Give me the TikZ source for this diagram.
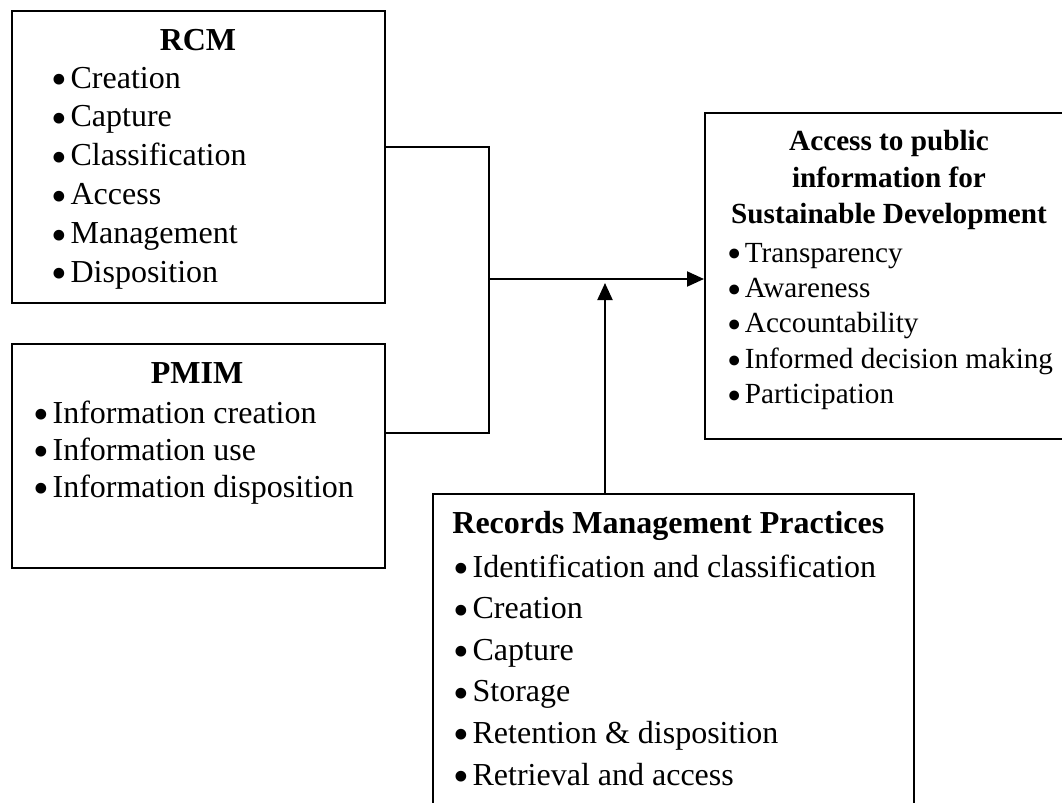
\documentclass[tikz,border=0pt]{standalone}
\usepackage{fontspec}
\setmainfont{Liberation Serif}
\usetikzlibrary{arrows.meta}
\newcommand{\bul}{\makebox[0.6em][l]{\smash{\raisebox{-0.2em}{\scalebox{1.4}{•}}}}}
\tikzset{
  box/.style={draw, line width=1pt, rectangle, inner sep=0pt, anchor=north west},
  ttl/.style={font=\fontsize{16}{19}\selectfont\bfseries, anchor=base, inner sep=0pt},
  itm/.style={font=\fontsize{16}{19}\selectfont, anchor=base west, inner sep=0pt},
  attl/.style={font=\fontsize{14.6}{17}\selectfont\bfseries, anchor=base, inner sep=0pt},
  aitm/.style={font=\fontsize{14.6}{17}\selectfont, anchor=base west, inner sep=0pt},
  arr/.style={-{Triangle[length=8.5pt,width=7.5pt]}, line width=1pt},
  conn/.style={line width=1pt}
}
\begin{document}
\begin{tikzpicture}[x=0.5pt, y=-0.5pt]
\useasboundingbox (0,0) rectangle (1062,803);
\clip (0,0) rectangle (1062,803);
% boxes
\node[box, minimum width=186.5pt, minimum height=146pt] (rcm) at (11,10) {};
\node[box, minimum width=186.5pt, minimum height=112pt] (pmim) at (11,343) {};
\node[box, minimum width=188pt, minimum height=163pt] (access) at (704,112) {};
\node[box, minimum width=240.5pt, minimum height=178.5pt] (rmp) at (432,493) {};
% RCM
\node[ttl] (rcmt) at (198,50) {RCM};
\foreach \t [count=\i from 0] in {Creation, Capture, Classification, Access, Management, Disposition}
  \node[itm] (rcm\i) at (51,{88+38.9*\i}) {\bul\t};
% PMIM
\node[ttl] (pmimt) at (197,383) {PMIM};
\foreach \t [count=\i from 0] in {Information creation, Information use, Information disposition}
  \node[itm] (pmim\i) at (33,{423+37*\i}) {\bul\t};
% Access
\node[attl] (acct1) at (889,150) {Access to public};
\node[attl] (acct2) at (889,187) {information for};
\node[attl] (acct3) at (889,223) {Sustainable Development};
\foreach \t [count=\i from 0] in {Transparency, Awareness, Accountability, Informed decision making, Participation}
  \node[aitm] (acc\i) at (727,{262+35.4*\i}) {\bul\t};
% Records Management Practices
\node[ttl, anchor=base west] (rmpt) at (452,533) {Records Management Practices};
\foreach \t [count=\i from 0] in {Identification and classification, Creation, Capture, Storage, Retention \& disposition, Retrieval and access}
  \node[itm] (rmp\i) at (453,{577+41.6*\i}) {\bul\t};
% connectors
\coordinate (j1) at (489,147);
\coordinate (j2) at (489,433);
\coordinate (j3) at (489,279);
\coordinate (j4) at (605,283);
\draw[conn] (rcm.east |- j1) -- (j1) -- (j2) -- (pmim.east |- j2);
\draw[arr] (j3) -- (access.west |- j3);
\draw[arr] (rmp.north -| j4) -- (j4);
\end{tikzpicture}
\end{document}
